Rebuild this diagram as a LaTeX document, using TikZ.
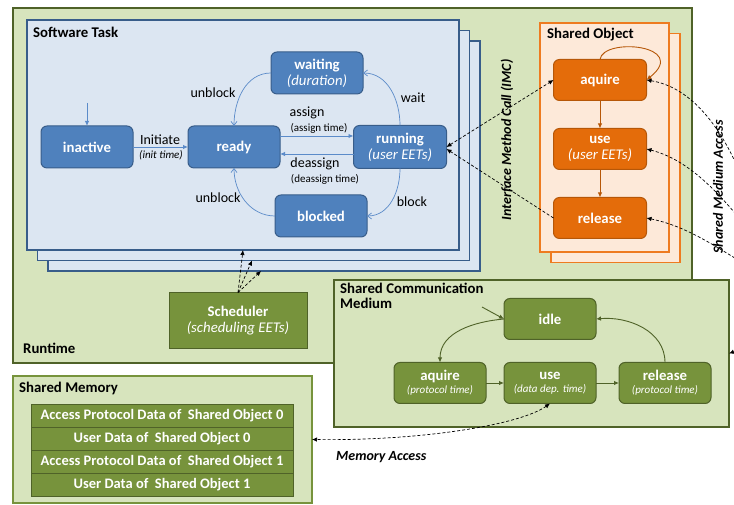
\documentclass[tikz,border=0pt]{standalone}
\usepackage{fontspec}
\setmainfont{Carlito}
\usetikzlibrary{arrows.meta,calc}
\definecolor{rtfill}{HTML}{D7E4BD}
\definecolor{rtdraw}{HTML}{4F6228}
\definecolor{stfill}{HTML}{DCE6F2}
\definecolor{stdraw}{HTML}{385D8A}
\definecolor{bnode}{HTML}{4F81BD}
\definecolor{barc}{HTML}{5B8BC9}
\definecolor{sofill}{HTML}{FDE9D9}
\definecolor{sodraw}{HTML}{EE7B20}
\definecolor{onode}{HTML}{E46C0A}
\definecolor{onodedraw}{HTML}{B65708}
\definecolor{gnode}{HTML}{77933C}
\definecolor{gnodedraw}{HTML}{4F6228}
\newcommand\fsA{\fontsize{14.8}{17}\selectfont}
\newcommand\fsL{\fontsize{14}{17}\selectfont}
\newcommand\fsB{\fontsize{11}{13}\selectfont}
\newcommand\fsC{\fontsize{14.5}{16}\selectfont}
\tikzset{dtip/.tip={Latex[length=5pt,width=4.5pt]}}
\begin{document}
\begin{tikzpicture}[x=1pt,y=1pt,
  container/.style={rectangle, draw, line width=1.1pt, inner sep=0pt, outer sep=0pt},
  statebox/.style={rectangle, rounded corners=6pt, line width=1pt, text=white,
     font=\bfseries\fsA, align=center, minimum width=92pt, minimum height=42pt, inner sep=1pt, outer sep=0pt},
  bstate/.style={statebox, fill=bnode, draw=stdraw},
  ostate/.style={statebox, fill=onode, draw=onodedraw, minimum width=93pt, minimum height=41pt},
  gstate/.style={statebox, fill=gnode, draw=gnodedraw, minimum height=41pt},
  memrow/.style={rectangle, fill=gnode, draw=gnodedraw, line width=0.8pt, text=white,
     font=\bfseries\fsC, minimum width=262pt, minimum height=23pt, inner sep=0pt, outer sep=0pt},
  title/.style={anchor=west, font=\bfseries\fsA, inner sep=0pt, align=left},
  lbl/.style={font=\fsL, inner sep=0pt},
  slbl/.style={font=\fsB, inner sep=0pt},
  barrow/.style={draw=barc, line width=0.7pt, -{Straight Barb[length=4pt,width=6pt]}},
  bsarrow/.style={draw=barc, line width=0.9pt, -{Latex[length=5pt,width=4.5pt]}},
  oarrow/.style={draw=onodedraw, line width=0.9pt, -{Latex[length=5pt,width=4.5pt]}},
  garrow/.style={draw=gnodedraw, line width=0.9pt, -{Latex[length=5pt,width=4.5pt]}},
  dasharrow/.style={draw=black, line width=0.7pt, dash pattern=on 3pt off 2pt}
]
\useasboundingbox (0,0) rectangle (734,505);
\clip (0,0) rectangle (734,505);
\fill[white] (0,0) rectangle (734,505);

% Runtime
\node[container, fill=rtfill, draw=rtdraw, minimum width=679pt, minimum height=355pt] (runtime) at (352.5,319.5) {};
\node[title] (runtimelbl) at (23,157) {Runtime};

% Software task stack
\node[container, fill=stfill, draw=stdraw, minimum width=432pt, minimum height=230pt] (st3) at (264,349) {};
\node[container, fill=stfill, draw=stdraw, minimum width=432pt, minimum height=230pt] (st2) at (253.5,359.5) {};
\node[container, fill=stfill, draw=stdraw, minimum width=432pt, minimum height=230pt] (st1) at (243,370) {};
\node[title] (sttitle) at (33,473) {Software Task};

% Shared object stack
\node[container, fill=sofill, draw=sodraw, minimum width=129pt, minimum height=229pt] (so2) at (615.5,357) {};
\node[container, fill=sofill, draw=sodraw, minimum width=129pt, minimum height=229pt] (so1) at (604.5,367.5) {};
\node[title] (sotitle) at (547,470) {Shared Object};

% Software task states
\node[bstate] (inactive) at (87,358) {inactive};
\node[bstate] (ready) at (234,358) {ready};
\node[bstate] (waiting) at (317,432) {waiting\\[-1pt]{\mdseries\itshape (duration)}};
\node[bstate] (blocked) at (321,289) {blocked};
\node[bstate, minimum width=93pt, minimum height=43pt] (running) at (400,358) {running\\[-1pt]{\mdseries\itshape (user EETs)}};
\coordinate (initst) at (87,402);

\draw[bsarrow] (initst) -- (inactive.north);
\draw[bsarrow] (inactive.east) -- (ready.west);
\draw[bsarrow] ([yshift=11pt]ready.east) -- ([yshift=11pt]running.west);
\draw[bsarrow] ([yshift=-7pt]running.west) -- ([yshift=-7pt]ready.east);
\draw[barrow] (waiting.west) to[out=180,in=90] (ready.north);
\draw[barrow] (running.north) to[out=90,in=0] (waiting.east);
\draw[barrow] (running.south) to[out=-90,in=0] (blocked.east);
\draw[barrow] (blocked.west) to[out=180,in=-90] (ready.south);

\node[lbl] (linit) at (160,365) {Initiate};
\node[slbl] (linit2) at (161,350) {\itshape (init time)};
\node[lbl] (lassign) at (307,392) {assign};
\node[slbl] (lassign2) at (319,377) {(assign time)};
\node[lbl] (ldeassign) at (315,341) {deassign};
\node[slbl] (ldeassign2) at (325,326) {(deassign time)};
\node[lbl] (lwait) at (413,407) {wait};
\node[lbl] (lunblock1) at (213,412) {unblock};
\node[lbl] (lunblock2) at (218,307) {unblock};
\node[lbl] (lblock) at (412,303) {block};

% Shared object states
\node[ostate] (soaq) at (600,425) {aquire};
\node[ostate] (souse) at (600,356) {use\\[-1pt]{\mdseries\itshape (user EETs)}};
\node[ostate] (sorel) at (600,287) {release};
\draw[oarrow] (soaq.south) -- (souse.north);
\draw[oarrow] (souse.south) -- (sorel.north);
\draw[oarrow] (soaq.north) .. controls (603,468) and (690,460) .. (soaq.east);

% Interface method call
\draw[dasharrow, dtip-dtip] (running.east) -- (soaq.west);
\draw[dasharrow, -dtip] (sorel.west) -- ([yshift=-2pt]running.east);
\node[font=\bfseries\itshape\fsL, rotate=90, inner sep=0pt] (imc) at (507,365) {Interface Method Call (IMC)};

% Scheduler
\node[rectangle, fill=gnode, draw=gnodedraw, line width=1pt, text=white, font=\bfseries\fsA, align=center,
      minimum width=138pt, minimum height=56pt, inner sep=0pt] (sched) at (238,184)
      {Scheduler\\[-1pt]{\mdseries\itshape (scheduling EETs)}};
\draw[dasharrow, -dtip] (sched.north) -- (st1.south);
\draw[dasharrow, -dtip] (sched.north) -- ([xshift=-1.5pt]st2.south);
\draw[dasharrow, -dtip] (sched.north) -- ([xshift=-3pt]st3.south);

% Shared communication medium
\node[container, fill=rtfill, draw=rtdraw, minimum width=395pt, minimum height=147pt] (scm) at (531.5,151.5) {};
\node[title, anchor=north west] (scmtitle) at (340,222) {Shared Communication\\[-2pt]Medium};
\node[gstate] (idle) at (550,186) {idle};
\node[gstate] (scmaq) at (440,122) {aquire\\[-4pt]{\mdseries\itshape\fsB (protocol time)}};
\node[gstate] (scmuse) at (550,122) {use\\[-4pt]{\mdseries\itshape\fsB (data dep. time)}};
\node[gstate] (scmrel) at (665,122) {release\\[-4pt]{\mdseries\itshape\fsB (protocol time)}};
\coordinate (scminit) at (482,198);
\draw[garrow] (scminit) -- (idle.west);
\draw[garrow] (idle.west) to[out=185,in=90] (scmaq.north);
\draw[garrow] (scmaq.east) -- (scmuse.west);
\draw[garrow] (scmuse.east) -- (scmrel.west);
\draw[garrow] (scmrel.north) to[out=90,in=5] (idle.east);

% Shared medium access
\coordinate (smaA) at (745,320);
\coordinate (smaB) at (745,280);
\coordinate (smaC) at (750,238);
\coordinate (smaD) at (752,160);
\draw[dasharrow, dtip-] (soaq.east) .. controls (690,418) and (722,380) .. (smaA);
\draw[dasharrow, dtip-] (souse.east) .. controls (690,345) and (720,310) .. (smaB);
\draw[dasharrow, dtip-] (sorel.east) .. controls (690,278) and (720,255) .. (smaC);
\draw[dasharrow, -dtip] (smaD) -- (scm.east);
\node[font=\bfseries\itshape\fsL, rotate=90, inner sep=0pt] (sma) at (718,318) {Shared Medium Access};

% Shared memory
\node[container, fill=rtfill, draw=gnode, minimum width=299pt, minimum height=127pt] (smem) at (162.5,65.5) {};
\node[title] (smemtitle) at (19,117) {Shared Memory};
\node[memrow] (m0) at (162,89.5) {Access Protocol Data of\ \ Shared Object 0};
\node[memrow] (m1) at (162,66.5) {User Data of\ \ Shared Object 0};
\node[memrow] (m2) at (162,43.5) {Access Protocol Data of\ \ Shared Object 1};
\node[memrow] (m3) at (162,20.5) {User Data of\ \ Shared Object 1};

% Memory access
\draw[dasharrow, dtip-dtip] (scmuse.south) .. controls (520,80) and (420,64) .. (smem.east);
\node[title, font=\bfseries\itshape\fsL] (memacc) at (336,48) {Memory Access};
\end{tikzpicture}
\end{document}
